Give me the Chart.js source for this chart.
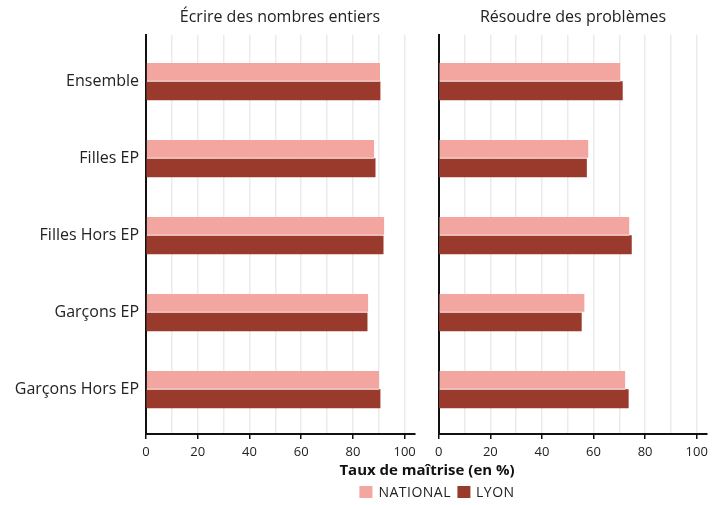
<!DOCTYPE html>
<html>
<head>
<meta charset="utf-8">
<script src="https://cdn.jsdelivr.net/npm/chart.js@4/dist/chart.umd.min.js"></script>
<style>
  body { margin: 0; background: #fff; font-family: "Open Sans", sans-serif; }
  #wrap { position: relative; width: 724px; height: 505px; overflow: hidden; }
  canvas { position: absolute; top: 0; }
  .titre { position: absolute; top: 5px; font-size: 16px; color: #222; text-align: center; white-space: nowrap; transform: translateX(-50%); }
  #axe { position: absolute; top: 459px; left: 427px; transform: translateX(-50%); font-size: 15px; font-weight: bold; color: #111; white-space: nowrap; }
  #legende { position: absolute; top: 482px; left: 440px; transform: translateX(-50%); font-size: 14px; color: #222; white-space: nowrap; letter-spacing: 0.5px; }
  #legende span.box { display: inline-block; width: 13px; height: 12px; vertical-align: -1px; margin-right: 6px; }
  #legende span.item { margin-right: 6px; }
</style>
</head>
<body>
<div id="wrap">
  <canvas id="gauche" width="430" height="505" style="left:0"></canvas>
  <canvas id="droite" width="294" height="505" style="left:430px"></canvas>
  <div class="titre" id="titreG" style="left:280px"></div>
  <div class="titre" id="titreD" style="left:573px"></div>
  <div id="axe"></div>
  <div id="legende"></div>
</div>
<script>
// données
const categories = ['Ensemble', 'Filles EP', 'Filles Hors EP', 'Garçons EP', 'Garçons Hors EP'];
const panneaux = ['Écrire des nombres entiers', 'Résoudre des problèmes'];
const series = ['NATIONAL', 'LYON'];
const ecrireNational = [90.5, 88.2, 92.1, 85.9, 90.1];
const ecrireLyon = [90.5, 88.6, 91.7, 85.5, 90.5];
const resoudreNational = [70.4, 58.0, 73.9, 56.5, 72.3];
const resoudreLyon = [71.2, 57.3, 74.7, 55.3, 73.5];
const xTicks = [0, 10, 20, 30, 40, 50, 60, 70, 80, 90, 100];
const titreAxe = 'Taux de maîtrise (en %)';

const couleurs = ['#f3a59f', '#993a2d'];
const police = '"Open Sans", sans-serif';

document.getElementById('titreG').textContent = panneaux[0];
document.getElementById('titreD').textContent = panneaux[1];
document.getElementById('axe').textContent = titreAxe;
document.getElementById('legende').innerHTML = series.map((s, i) =>
  '<span class="item"><span class="box" style="background:' + couleurs[i] + '"></span>' + s + '</span>'
).join('');

function toPoints(values) {
  return values.map((v, i) => ({ x: v, y: i }));
}

function makeChart(id, national, lyon, showLabels, yWidth, padRight) {
  const ctx = document.getElementById(id).getContext('2d');
  return new Chart(ctx, {
    type: 'bar',
    data: {
      datasets: [
        {
          label: series[0],
          data: toPoints(national),
          backgroundColor: couleurs[0],
          borderColor: '#fff',
          borderWidth: { top: 0, right: 0, bottom: 1, left: 0 },
          borderSkipped: false,
          barThickness: 18.5
        },
        {
          label: series[1],
          data: toPoints(lyon),
          backgroundColor: couleurs[1],
          borderWidth: 0,
          barThickness: 18.5
        }
      ]
    },
    options: {
      indexAxis: 'y',
      responsive: false,
      animation: false,
      devicePixelRatio: 1,
      layout: { padding: { top: 35, right: padRight, bottom: 0, left: 0 } },
      plugins: { legend: { display: false }, tooltip: { enabled: false } },
      scales: {
        x: {
          type: 'linear',
          bounds: 'data',
          min: 0,
          max: 104,
          afterBuildTicks: (scale) => { scale.ticks = xTicks.map(v => ({ value: v })); },
          afterFit: (scale) => { scale.height = 71; },
          grid: {
            color: '#ebebeb',
            lineWidth: 1.5,
            tickLength: 5,
            tickWidth: 1.5,
            tickColor: (c) => (c.tick && c.tick.value % 20 === 0) ? '#111' : 'rgba(0,0,0,0)'
          },
          border: { display: true, color: '#111', width: 2 },
          ticks: {
            autoSkip: false,
            maxRotation: 0,
            padding: 5,
            color: '#222',
            font: { family: police, size: 13 },
            callback: (v) => v % 20 === 0 ? v : ''
          }
        },
        y: {
          type: 'linear',
          bounds: 'data',
          offset: false,
          reverse: true,
          min: -0.604,
          max: 4.578,
          afterBuildTicks: (scale) => { scale.ticks = categories.map((c, i) => ({ value: i })); },
          afterFit: (scale) => { scale.width = yWidth; },
          grid: { display: false, drawTicks: false, offset: false },
          border: { display: true, color: '#111', width: 2 },
          ticks: {
            display: showLabels,
            autoSkip: false,
            padding: 7,
            color: '#222',
            font: { family: police, size: 16 },
            callback: (v) => categories[v]
          }
        }
      }
    }
  });
}

makeChart('gauche', ecrireNational, ecrireLyon, true, 146, 15);
makeChart('droite', resoudreNational, resoudreLyon, false, 8, 17);
</script>
</body>
</html>
